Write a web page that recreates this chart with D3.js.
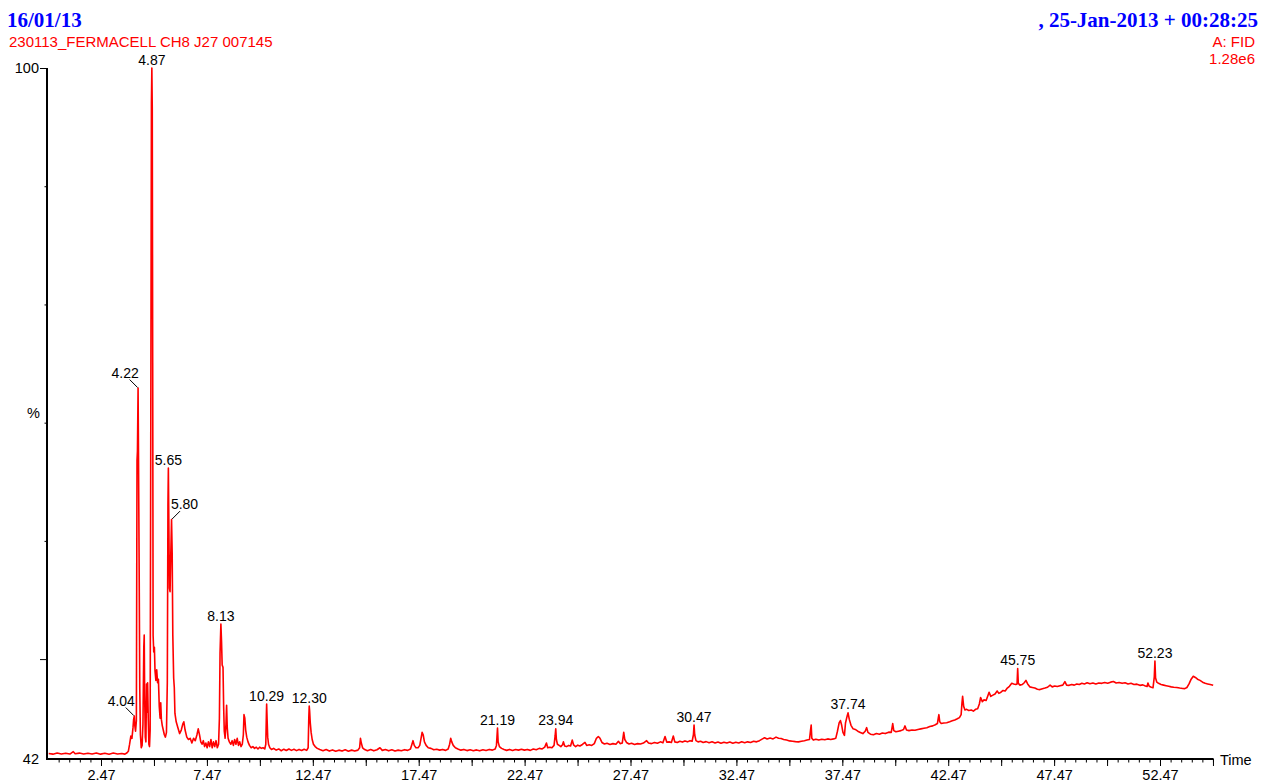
<!DOCTYPE html>
<html>
<head>
<meta charset="utf-8">
<script src="https://cdn.jsdelivr.net/npm/d3@7/dist/d3.min.js"></script>
<style>
  body { margin: 0; background: #fff; }
  svg { display: block; }
  text { font-family: "Liberation Sans", Arial, sans-serif; }
</style>
</head>
<body>
<div id="chart"></div>
<script>
// header texts
const runDate = "16/01/13";
const sampleName = "230113_FERMACELL CH8 J27 007145";
const acqStamp = ", 25-Jan-2013 + 00:28:25";
const channelName = "A: FID";
const fullScale = "1.28e6";

// axis setup
const timeDomain = [0, 55];
const pctDomain = [41.55, 100];
const xLabelTicks = [2.47, 7.47, 12.47, 17.47, 22.47, 27.47, 32.47, 37.47, 42.47, 47.47, 52.47];
const yLabelTicks = [41.55, 100];

// labelled peaks (retention time, label)
const peakTimes = [4.04, 4.22, 4.87, 5.65, 5.80, 8.13, 10.29, 12.30, 21.19, 23.94, 30.47, 37.74, 45.75, 52.23];
const peakLabels = ["4.04", "4.22", "4.87", "5.65", "5.80", "8.13", "10.29", "12.30", "21.19", "23.94", "30.47", "37.74", "45.75", "52.23"];

// chromatogram trace: [time (min), % of 1.28e6]
const trace = [
  [0.00,42.02],[0.20,41.96],[0.40,42.06],[0.60,41.98],[0.80,42.04],[1.00,41.97],[1.16,42.17],[1.25,41.99],
  [1.45,42.05],[1.65,41.97],[1.85,42.04],[2.05,41.98],[2.25,42.06],[2.45,41.96],[2.65,42.03],[2.85,41.95],
  [3.05,42.05],[3.25,41.97],[3.45,42.02],[3.60,41.96],[3.70,42.08],
  [3.76,42.2],[3.82,42.8],[3.88,43.5],[3.93,43.3],[3.98,44.2],[4.01,44.9],[4.04,45.18],[4.07,44.3],
  [4.10,43.9],[4.14,44.8],[4.17,66.8],[4.19,67.6],[4.22,72.93],[4.24,67.2],[4.27,58.0],[4.30,47.5],
  [4.33,43.6],[4.37,42.5],[4.41,42.7],[4.45,44.5],[4.49,51.0],[4.51,52.03],[4.53,47.0],[4.56,43.4],
  [4.59,43.0],[4.62,47.9],[4.64,45.5],[4.67,48.0],[4.70,45.0],[4.73,42.8],[4.76,42.6],[4.79,44.0],
  [4.82,70.0],[4.85,97.0],[4.87,100],[4.89,96.5],[4.91,75.0],[4.93,52.0],[4.96,50.6],[4.99,51.0],
  [5.02,49.0],[5.06,48.2],[5.10,49.1],[5.14,48.0],[5.18,48.3],[5.22,46.0],[5.26,45.0],[5.29,46.3],
  [5.32,44.9],[5.36,44.4],[5.41,44.0],[5.46,43.6],[5.51,43.4],[5.56,43.8],[5.60,48.0],[5.63,63.0],
  [5.65,66.16],[5.67,62.0],[5.70,56.0],[5.73,55.7],[5.76,58.5],[5.80,61.8],[5.83,59.0],[5.86,52.0],
  [5.90,48.4],[5.93,47.6],[5.96,45.4],[6.02,44.7],[6.10,44.2],[6.18,43.7],[6.26,44.0],[6.33,44.5],
  [6.38,44.7],[6.44,44.0],[6.52,43.4],[6.60,43.2],[6.68,43.3],[6.76,42.9],[6.84,43.3],[6.92,43.1],
  [7.00,43.6],[7.06,44.1],[7.12,43.6],[7.18,43.0],[7.24,42.8],[7.30,43.1],[7.36,42.6],[7.42,42.9],
  [7.48,42.5],[7.54,43.0],[7.60,42.6],[7.66,43.2],[7.72,42.5],[7.78,43.0],[7.84,42.6],[7.90,43.1],
  [7.96,42.5],[8.02,42.8],[8.06,45.0],[8.09,50.5],[8.13,52.96],[8.16,51.5],[8.19,49.5],[8.23,49.3],
  [8.26,46.0],[8.29,43.9],[8.33,43.3],[8.37,44.5],[8.40,46.1],[8.43,44.2],[8.47,43.3],[8.53,43.0],
  [8.60,42.8],[8.66,43.1],[8.72,42.7],[8.78,43.2],[8.84,42.8],[8.90,43.3],[8.96,42.7],[9.02,43.0],
  [9.08,42.6],[9.14,42.8],[9.19,43.6],[9.22,45.3],[9.26,45.0],[9.30,44.0],[9.35,43.4],[9.41,43.0],
  [9.48,42.7],[9.56,42.5],[9.64,42.6],[9.72,42.45],[9.80,42.55],[9.88,42.4],[9.96,42.55],[10.04,42.45],
  [10.12,42.5],[10.20,42.4],[10.25,42.8],[10.28,45.5],[10.29,46.19],[10.31,45.0],[10.34,43.4],[10.38,42.8],
  [10.44,42.5],[10.52,42.35],[10.62,42.45],[10.74,42.3],[10.86,42.4],[10.98,42.25],[11.10,42.38],[11.22,42.27],
  [11.34,42.4],[11.46,42.28],[11.58,42.37],[11.70,42.26],[11.82,42.36],[11.94,42.27],[12.06,42.38],[12.18,42.28],
  [12.25,42.5],[12.28,45.0],[12.30,46.02],[12.32,45.6],[12.35,44.6],[12.39,43.8],[12.44,43.2],[12.50,42.8],
  [12.58,42.6],[12.68,42.45],[12.80,42.35],[12.95,42.25],[13.10,42.35],[13.25,42.22],[13.40,42.32],[13.55,42.2],
  [13.70,42.3],[13.85,42.22],[14.00,42.33],[14.15,42.21],[14.30,42.3],[14.45,42.22],[14.60,42.3],[14.68,42.5],
  [14.72,43.3],[14.76,42.9],[14.82,42.5],[14.92,42.35],[15.05,42.25],[15.20,42.35],[15.35,42.24],[15.50,42.33],
  [15.64,42.5],[15.75,42.28],[15.90,42.35],[16.05,42.24],[16.20,42.33],[16.35,42.22],[16.50,42.3],[16.65,42.25],
  [16.80,42.34],[16.95,42.28],[17.08,42.4],[17.15,42.8],[17.20,43.1],[17.26,42.7],[17.34,42.5],[17.44,42.5],
  [17.52,42.7],[17.58,43.3],[17.63,43.8],[17.68,43.6],[17.74,43.0],[17.82,42.7],[17.92,42.5],[18.05,42.45],
  [18.18,42.33],[18.32,42.38],[18.46,42.3],[18.60,42.36],[18.74,42.28],[18.86,42.4],[18.93,42.8],[18.98,43.3],
  [19.03,43.0],[19.10,42.7],[19.20,42.5],[19.32,42.4],[19.46,42.3],[19.60,42.36],[19.75,42.26],[19.90,42.33],
  [20.05,42.25],[20.20,42.32],[20.35,42.24],[20.50,42.33],[20.65,42.27],[20.80,42.36],[20.95,42.3],[21.08,42.4],
  [21.14,42.7],[21.19,44.16],[21.22,43.0],[21.28,42.6],[21.38,42.45],[21.50,42.35],[21.62,42.28],[21.76,42.36],
  [21.90,42.27],[22.04,42.35],[22.18,42.3],[22.32,42.38],[22.46,42.3],[22.60,42.36],[22.74,42.28],[22.88,42.4],
  [23.02,42.34],[23.16,42.45],[23.30,42.4],[23.42,42.55],[23.50,42.9],[23.56,42.5],[23.66,42.55],[23.76,42.5],
  [23.86,42.7],[23.91,43.5],[23.94,44.1],[23.97,43.2],[24.02,42.8],[24.10,42.7],[24.18,42.6],[24.26,42.75],
  [24.30,43.0],[24.36,42.65],[24.45,42.6],[24.55,42.7],[24.64,42.65],[24.72,43.15],[24.78,42.75],[24.88,42.6],
  [24.98,42.72],[25.08,42.65],[25.20,42.78],[25.32,42.95],[25.40,42.7],[25.52,42.75],[25.64,42.7],[25.76,42.85],
  [25.86,43.3],[25.95,43.45],[26.03,43.3],[26.12,42.95],[26.24,42.82],[26.36,42.88],[26.50,42.78],[26.64,42.85],
  [26.78,42.8],[26.90,43.05],[26.98,42.85],[27.08,42.9],[27.15,43.8],[27.20,43.2],[27.28,42.95],[27.40,42.82],
  [27.52,42.88],[27.66,42.78],[27.80,42.85],[27.94,42.82],[28.08,42.9],[28.23,43.1],[28.32,42.9],[28.46,42.85],
  [28.60,42.95],[28.74,42.88],[28.88,43.0],[29.00,42.92],[29.10,43.45],[29.18,42.98],[29.30,43.0],[29.40,42.95],
  [29.49,43.5],[29.56,43.0],[29.68,42.95],[29.80,43.05],[29.92,42.98],[30.04,43.08],[30.16,43.0],[30.28,43.1],
  [30.38,43.05],[30.44,43.6],[30.47,44.42],[30.50,43.6],[30.56,43.1],[30.66,43.0],[30.78,43.05],[30.90,42.95],
  [31.04,43.02],[31.18,42.92],[31.32,43.0],[31.46,42.9],[31.60,42.98],[31.74,42.88],[31.88,42.97],[32.02,42.9],
  [32.16,42.98],[32.30,42.88],[32.44,42.96],[32.58,42.9],[32.72,43.0],[32.86,42.92],[33.00,43.0],[33.14,42.95],
  [33.28,43.05],[33.42,43.0],[33.56,43.1],[33.70,43.25],[33.80,43.35],[33.92,43.25],[34.06,43.32],[34.20,43.25],
  [34.34,43.4],[34.46,43.3],[34.58,43.28],[34.70,43.2],[34.84,43.15],[34.98,43.08],[35.12,43.05],[35.26,43.02],
  [35.40,43.0],[35.54,43.05],[35.68,43.1],[35.80,43.15],[35.92,43.2],[35.97,44.0],[36.00,44.42],[36.03,43.3],
  [36.10,43.15],[36.22,43.22],[36.36,43.15],[36.50,43.22],[36.64,43.18],[36.78,43.25],[36.92,43.2],[37.06,43.25],
  [37.16,43.3],[37.24,43.9],[37.32,44.6],[37.38,44.8],[37.44,44.4],[37.50,43.8],[37.57,43.55],[37.62,44.6],
  [37.70,45.2],[37.74,45.45],[37.80,44.9],[37.88,44.4],[37.98,44.1],[38.08,44.05],[38.20,43.9],[38.32,43.8],
  [38.44,43.7],[38.55,43.9],[38.62,44.2],[38.68,43.8],[38.80,43.65],[38.94,43.6],[39.08,43.7],[39.22,43.65],
  [39.36,43.75],[39.50,43.7],[39.66,43.82],[39.78,43.8],[39.85,44.55],[39.90,43.95],[40.00,43.85],[40.12,43.9],
  [40.24,43.95],[40.36,44.05],[40.43,44.35],[40.50,44.0],[40.62,43.95],[40.76,44.0],[40.90,43.98],[41.04,44.05],
  [41.18,44.1],[41.32,44.15],[41.46,44.2],[41.60,44.3],[41.74,44.35],[41.86,44.45],[41.96,44.55],[42.00,45.0],
  [42.03,45.3],[42.07,44.7],[42.14,44.55],[42.26,44.6],[42.40,44.62],[42.54,44.7],[42.66,44.78],[42.78,44.85],
  [42.90,44.95],[43.00,45.05],[43.08,45.3],[43.12,46.3],[43.15,46.85],[43.20,46.0],[43.26,45.7],[43.34,45.75],
  [43.44,45.65],[43.56,45.7],[43.66,45.6],[43.76,45.75],[43.86,45.8],[43.94,46.2],[44.00,46.75],[44.08,46.4],
  [44.16,46.55],[44.26,46.5],[44.35,46.95],[44.40,47.2],[44.48,46.85],[44.58,46.95],[44.68,47.05],[44.78,47.3],
  [44.86,47.1],[44.96,47.2],[45.06,47.35],[45.16,47.3],[45.26,47.55],[45.36,47.7],[45.47,47.95],[45.56,47.9],
  [45.66,47.85],[45.72,47.9],[45.75,49.2],[45.78,47.95],[45.86,47.8],[45.96,47.85],[46.06,48.0],[46.14,48.2],
  [46.22,47.9],[46.33,47.65],[46.44,47.6],[46.56,47.55],[46.68,47.45],[46.80,47.42],[46.92,47.5],[47.04,47.55],
  [47.16,47.62],[47.28,47.8],[47.38,47.65],[47.50,47.72],[47.62,47.68],[47.75,47.75],[47.88,47.8],[47.98,48.1],
  [48.06,47.8],[48.18,47.78],[48.30,47.85],[48.42,47.8],[48.54,47.9],[48.66,47.85],[48.78,47.95],[48.90,47.9],
  [49.03,48.0],[49.16,47.92],[49.30,47.98],[49.44,47.9],[49.58,47.98],[49.72,47.95],[49.86,48.02],[50.00,47.96],
  [50.14,48.05],[50.27,48.1],[50.40,47.98],[50.54,48.02],[50.68,47.95],[50.82,48.0],[50.96,47.9],[51.10,47.95],
  [51.24,47.85],[51.38,47.88],[51.52,47.78],[51.66,47.82],[51.78,47.72],[51.86,47.68],[51.90,47.98],[51.96,47.7],
  [52.06,47.62],[52.14,47.58],[52.20,48.5],[52.23,49.83],[52.26,48.4],[52.32,48.05],[52.40,47.95],[52.52,47.85],
  [52.64,47.8],[52.76,47.75],[52.88,47.7],[53.00,47.65],[53.12,47.62],[53.26,47.6],[53.40,47.55],[53.54,47.52],
  [53.64,47.5],[53.74,47.6],[53.84,47.9],[53.94,48.3],[54.04,48.55],[54.14,48.45],[54.24,48.3],[54.36,48.2],
  [54.48,48.05],[54.60,47.95],[54.72,47.9],[54.84,47.85],[54.98,47.78]
];

const width = 1262, height = 782;
const blue = "#0000ff", red = "#ff0000";

const svg = d3.select("#chart")
    .append("svg")
    .attr("width", width)
    .attr("height", height);

const x = d3.scaleLinear().domain(timeDomain).range([48.7, 1213.6]);
const y = d3.scaleLinear().domain(pctDomain).range([759, 68]);

// Header
svg.append("text")
    .attr("x", 7).attr("y", 26.5)
    .attr("fill", blue)
    .style("font-family", "'Liberation Serif', 'Times New Roman', serif")
    .style("font-weight", "bold")
    .style("font-size", "21px")
    .text(runDate);

svg.append("text")
    .attr("x", 1258).attr("y", 26.5)
    .attr("text-anchor", "end")
    .attr("fill", blue)
    .style("font-family", "'Liberation Serif', 'Times New Roman', serif")
    .style("font-weight", "bold")
    .style("font-size", "21px")
    .style("white-space", "pre")
    .text(acqStamp);

svg.append("text")
    .attr("x", 9).attr("y", 46.5)
    .attr("fill", red)
    .style("font-size", "15px")
    .text(sampleName);

svg.append("text")
    .attr("x", 1255).attr("y", 46.5)
    .attr("text-anchor", "end")
    .attr("fill", red)
    .style("font-size", "15px")
    .text(channelName);

svg.append("text")
    .attr("x", 1255).attr("y", 64)
    .attr("text-anchor", "end")
    .attr("fill", red)
    .style("font-size", "15px")
    .text(fullScale);

// X axis ticks: minor every 0.5 min, major every 2.5 min, labels every 5 min
const xMinor = d3.range(0.47, timeDomain[1], 0.5);
const xMajor = d3.range(2.47, timeDomain[1], 2.5);

function styleAxis(g) {
    g.select(".domain").remove();
    g.selectAll("line").attr("stroke", "#000").attr("stroke-width", 1);
    g.selectAll("text")
        .attr("fill", "#000")
        .style("font-family", "'Liberation Sans', Arial, sans-serif")
        .style("font-size", "14.5px");
}

svg.append("g")
    .attr("transform", "translate(0,759)")
    .call(d3.axisBottom(x).tickValues(xMinor).tickSize(3.5).tickFormat(""))
    .call(styleAxis);

svg.append("g")
    .attr("transform", "translate(0,759)")
    .call(d3.axisBottom(x).tickValues(xMajor).tickSize(7).tickFormat(""))
    .call(styleAxis);

const xLab = svg.append("g")
    .attr("transform", "translate(0,759)")
    .call(d3.axisBottom(x).tickValues(xLabelTicks).tickSize(0).tickFormat(d3.format(".2f")))
    .call(styleAxis);
xLab.selectAll("text").attr("y", 21).attr("dy", "0");

// Y axis ticks
svg.append("g")
    .attr("transform", "translate(47,0)")
    .call(d3.axisLeft(y).tickValues([60, 70, 80, 90]).tickSize(2.5).tickFormat(""))
    .call(styleAxis);

svg.append("g")
    .attr("transform", "translate(47,0)")
    .call(d3.axisLeft(y).tickValues([50, 100]).tickSize(7).tickFormat(""))
    .call(styleAxis);

svg.append("g")
    .attr("transform", "translate(47,0)")
    .call(d3.axisLeft(y).tickValues(yLabelTicks).tickSize(0).tickPadding(8).tickFormat(d3.format(".0f")))
    .call(styleAxis);

// axis lines
svg.append("line")
    .attr("x1", 47).attr("x2", 47)
    .attr("y1", y(100)).attr("y2", 760)
    .attr("stroke", "#000").attr("stroke-width", 2);

svg.append("line")
    .attr("x1", 46).attr("x2", x(timeDomain[1]))
    .attr("y1", 759).attr("y2", 759)
    .attr("stroke", "#000").attr("stroke-width", 2);

svg.append("text")
    .attr("x", 40).attr("y", 418)
    .attr("text-anchor", "end")
    .style("font-size", "14.5px")
    .text("%");

svg.append("text")
    .attr("x", 1220).attr("y", 765)
    .style("font-size", "14.5px")
    .text("Time");

// Trace
const line = d3.line()
    .x(d => x(d[0]))
    .y(d => y(d[1]));

svg.append("path")
    .datum(trace)
    .attr("d", line)
    .attr("fill", "none")
    .attr("stroke", red)
    .attr("stroke-width", 1.6)
    .attr("stroke-linejoin", "round");

// Peak labels
const leaderSide = { "4.04": -1, "4.22": -1, "5.80": 1 };

const peaks = peakTimes.map((t, i) => {
    const near = trace.filter(d => Math.abs(d[0] - t) <= 0.025);
    return { t, v: d3.max(near, d => d[1]), label: peakLabels[i] };
});

peaks.forEach(p => {
    const px = x(p.t), py = y(p.v);
    const side = leaderSide[p.label];
    if (side) {
        svg.append("line")
            .attr("x1", px + side * 8.5).attr("y1", py - 8.5)
            .attr("x2", px + side * 0.5).attr("y2", py - 0.5)
            .attr("stroke", "#000").attr("stroke-width", 1);
        svg.append("text")
            .attr("x", px + side * 13).attr("y", py - 10.5)
            .attr("text-anchor", "middle")
            .style("font-size", "14px")
            .text(p.label);
    } else {
        svg.append("text")
            .attr("x", px).attr("y", py - 3.5)
            .attr("text-anchor", "middle")
            .style("font-size", "14px")
            .text(p.label);
    }
});
</script>
</body>
</html>
